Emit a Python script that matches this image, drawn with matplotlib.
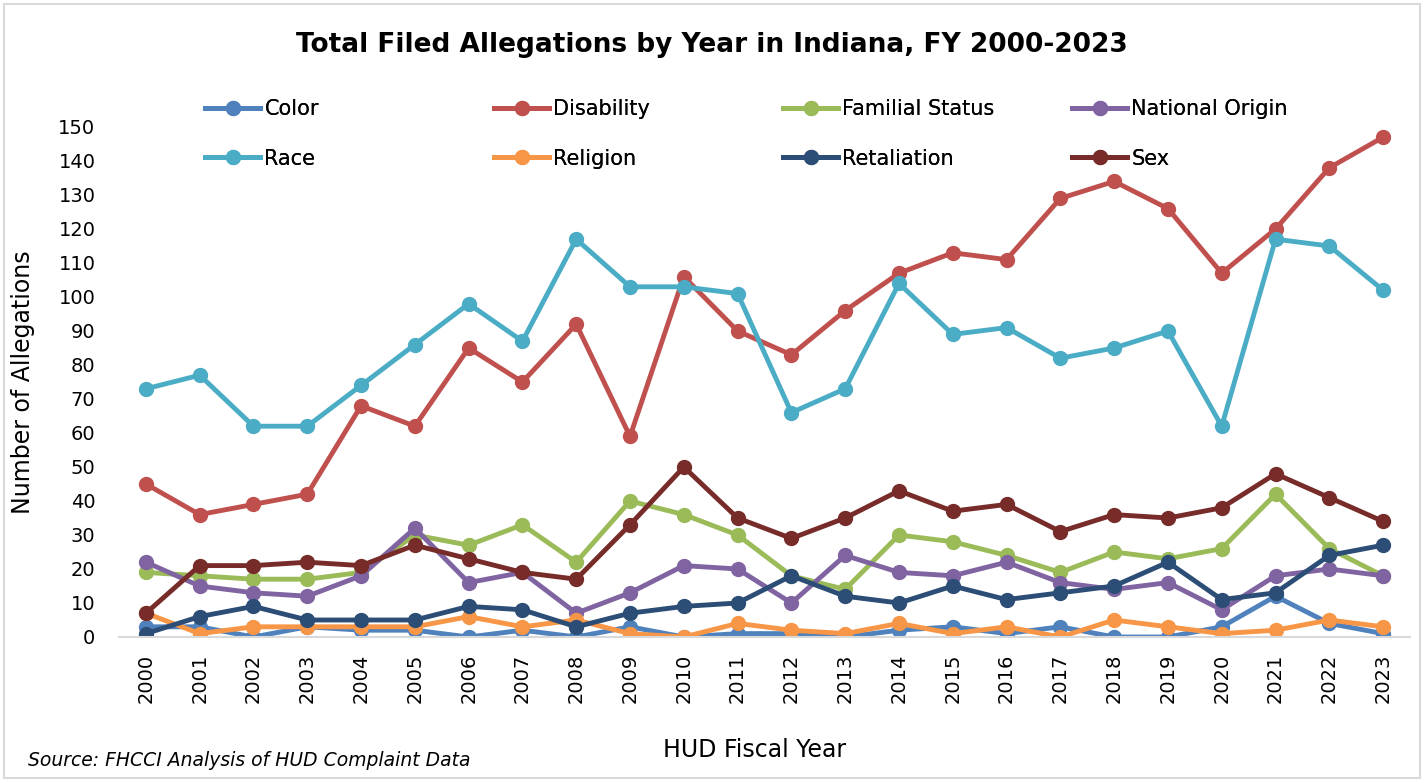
import matplotlib
matplotlib.use('Agg')
import matplotlib.pyplot as plt
from matplotlib.patches import Rectangle

# data
years = list(range(2000, 2024))
color_vals = [3, 3, 0, 3, 2, 2, 0, 2, 0, 3, 0, 1, 1, 0, 2, 3, 1, 3, 0, 0, 3, 12, 4, 1]
disability = [45, 36, 39, 42, 68, 62, 85, 75, 92, 59, 106, 90, 83, 96, 107, 113, 111, 129, 134, 126, 107, 120, 138, 147]
familial = [19, 18, 17, 17, 19, 30, 27, 33, 22, 40, 36, 30, 18, 14, 30, 28, 24, 19, 25, 23, 26, 42, 26, 18]
national_origin = [22, 15, 13, 12, 18, 32, 16, 19, 7, 13, 21, 20, 10, 24, 19, 18, 22, 16, 14, 16, 8, 18, 20, 18]
race = [73, 77, 62, 62, 74, 86, 98, 87, 117, 103, 103, 101, 66, 73, 104, 89, 91, 82, 85, 90, 62, 117, 115, 102]
religion = [7, 1, 3, 3, 3, 3, 6, 3, 5, 1, 0, 4, 2, 1, 4, 1, 3, 0, 5, 3, 1, 2, 5, 3]
retaliation = [1, 6, 9, 5, 5, 5, 9, 8, 3, 7, 9, 10, 18, 12, 10, 15, 11, 13, 15, 22, 11, 13, 24, 27]
sex = [7, 21, 21, 22, 21, 27, 23, 19, 17, 33, 50, 35, 29, 35, 43, 37, 39, 31, 36, 35, 38, 48, 41, 34]

series = [
    ('Color', color_vals, '#4F81BD'),
    ('Disability', disability, '#C0504D'),
    ('Familial Status', familial, '#9BBB59'),
    ('National Origin', national_origin, '#8064A2'),
    ('Race', race, '#4BACC6'),
    ('Religion', religion, '#F79646'),
    ('Retaliation', retaliation, '#2C4D75'),
    ('Sex', sex, '#772C2A'),
]

plt.rcParams['font.family'] = ['DejaVu Sans']

W, H = 1424, 782
fig = plt.figure(figsize=(14.24, 7.82), dpi=100)
ax = fig.add_axes([119 / W, 1 - 637 / H, (1410 - 119) / W, (637 - 127) / H])

x = list(range(len(years)))
handles = {}
for name, vals, c in series:
    h, = ax.plot(x, vals, color=c, lw=3.5, marker='o', markersize=10, label=name)
    handles[name] = h

ax.set_xlim(-0.5, len(years) - 0.5)
ax.set_ylim(0, 150)
ax.set_yticks(range(0, 151, 10))
ax.set_xticks(x)
ax.set_xticklabels([str(y) for y in years], rotation=90)
ax.tick_params(axis='both', length=0, labelsize=14)
ax.tick_params(axis='y', pad=17)
ax.tick_params(axis='x', pad=12)
for s in ['top', 'right', 'left']:
    ax.spines[s].set_visible(False)
ax.spines['bottom'].set_color('#D9D9D9')
ax.spines['bottom'].set_linewidth(1.5)
ax.patch.set_alpha(0)

ax.set_ylabel('Number of Allegations', fontsize=17)
ax.yaxis.set_label_coords((35 - 119) / (1410 - 119), 0.5)
fig.text(755 / W, 1 - 750 / H, 'HUD Fiscal Year', fontsize=17, ha='center', va='center')
fig.text(28 / W, 1 - 760 / H, 'Source: FHCCI Analysis of HUD Complaint Data',
         fontsize=13.5, style='italic', ha='left', va='center')

fig.text(712 / W, 1 - 45 / H, 'Total Filed Allegations by Year in Indiana, FY 2000-2023',
         fontsize=19, fontweight='bold', ha='center', va='center')

# legend: 4 equally spaced columns, 2 rows
legend_cols = [['Color', 'Race'], ['Disability', 'Religion'],
               ['Familial Status', 'Retaliation'], ['National Origin', 'Sex']]
col_x = [205, 494, 783, 1072]
for names, lx in zip(legend_cols, col_x):
    leg = fig.legend([handles[n] for n in names], names, loc='center left',
                     bbox_to_anchor=(lx / W, 1 - 134 / H), frameon=False, fontsize=15,
                     handlelength=2.65, handletextpad=0.2, labelspacing=1.4,
                     borderaxespad=0, borderpad=0)
    fig.add_artist(leg)

fig.patches.append(Rectangle((4 / W, 4 / H), 1 - 8 / W, 1 - 8 / H,
                             transform=fig.transFigure, fill=False,
                             edgecolor='#D9D9D9', lw=1.5))

fig.savefig('out.png', dpi=100)
